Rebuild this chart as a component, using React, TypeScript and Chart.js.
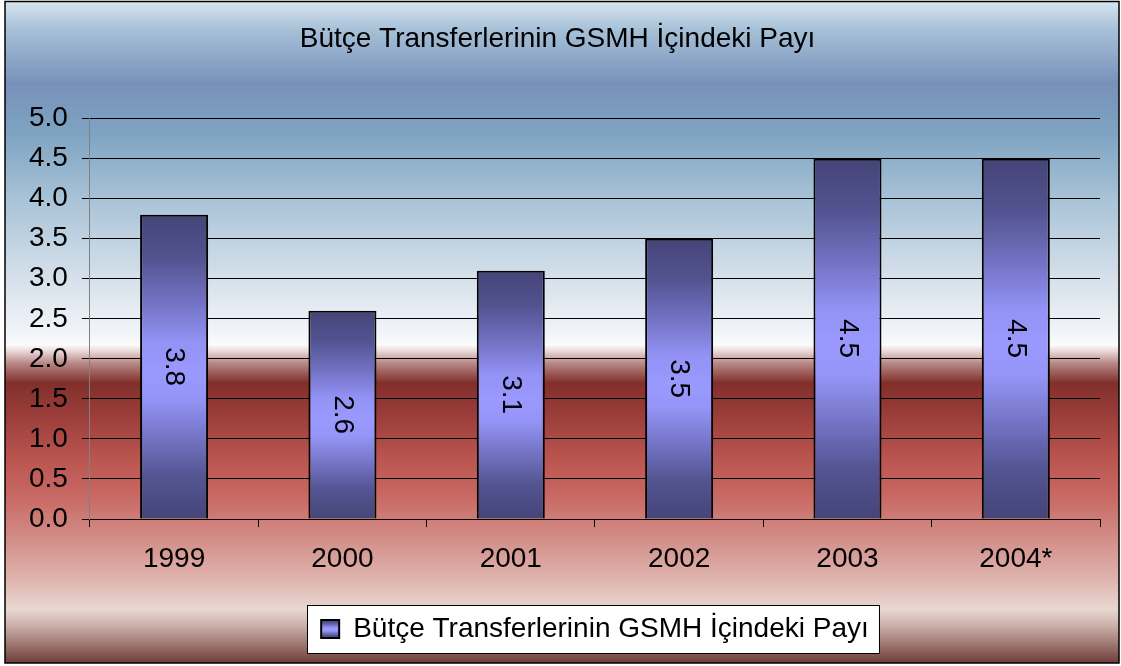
import React, { useEffect, useRef } from 'react';
import { Chart, registerables } from 'chart.js';

Chart.register(...registerables);

// ---- data ----
const categories: string[] = ['1999', '2000', '2001', '2002', '2003', '2004*'];
const values: number[] = [3.8, 2.6, 3.1, 3.5, 4.5, 4.5];
const seriesLabel = 'Bütçe Transferlerinin GSMH İçindeki Payı';
const chartTitle = 'Bütçe Transferlerinin GSMH İçindeki Payı';
const yMin = 0;
const yMax = 5;
const yStep = 0.5;

// ---- styles ----
const FONT = '"Liberation Sans", Arial, Helvetica, sans-serif';
const FONT_SIZE = 28;

const barStops: [number, string][] = [
  [0, '#454578'],
  [0.14, '#525290'],
  [0.3, '#7575c8'],
  [0.42, '#9393f5'],
  [0.52, '#9999ff'],
  [0.6, '#9595f8'],
  [0.72, '#7777ca'],
  [0.86, '#545492'],
  [1, '#454578'],
];

const bgStops: [number, string][] = [
  [0, '#d9e7f1'],
  [0.045, '#a6c0d7'],
  [0.125, '#7891ba'],
  [0.2, '#7ea3c1'],
  [0.3, '#a9c3d7'],
  [0.42, '#d6e1eb'],
  [0.505, '#f3f6f9'],
  [0.518, '#fbfbfc'],
  [0.527, '#ead9d8'],
  [0.545, '#b88a88'],
  [0.575, '#812f2b'],
  [0.63, '#9e403c'],
  [0.69, '#bb5550'],
  [0.75, '#c96b66'],
  [0.81, '#d38e89'],
  [0.87, '#dfb4ae'],
  [0.915, '#e8d7d2'],
  [0.94, '#cbaea8'],
  [1, '#673531'],
];

function makeBarGradient(ctx: CanvasRenderingContext2D, top: number, bottom: number) {
  const g = ctx.createLinearGradient(0, top, 0, bottom);
  barStops.forEach(([o, c]) => g.addColorStop(o, c));
  return g;
}

const backgroundPlugin = {
  id: 'bgFrame',
  beforeDraw(chart: any) {
    const { ctx, width, height } = chart;
    ctx.save();
    ctx.fillStyle = '#ffffff';
    ctx.fillRect(0, 0, width, height);
    const g = ctx.createLinearGradient(0, 0, 0, height);
    bgStops.forEach(([o, c]) => g.addColorStop(o, c));
    ctx.fillStyle = g;
    ctx.fillRect(5, 1, width - 7, height - 4);
    ctx.strokeStyle = '#000';
    ctx.lineWidth = 1.5;
    ctx.strokeRect(5, 1.5, width - 7, height - 4.5);

    const lg = chart.legend;
    if (lg && lg.legendHitBoxes && lg.legendHitBoxes.length) {
      const hb = lg.legendHitBoxes[0];
      const x0 = Math.round(hb.left - 14);
      const x1 = Math.round(hb.left + hb.width + 10);
      const y0 = Math.round(hb.top - 10);
      const y1 = Math.round(hb.top + hb.height + 10);
      ctx.fillStyle = '#ffffff';
      ctx.fillRect(x0, y0, x1 - x0, y1 - y0);
      ctx.strokeStyle = '#000';
      ctx.lineWidth = 1;
      ctx.strokeRect(x0 + 0.5, y0 + 0.5, x1 - x0, y1 - y0);
      const item = lg.legendItems && lg.legendItems[0];
      if (item) {
        const bh = 18;
        const top = hb.top + Math.max((FONT_SIZE - bh) / 2, 0);
        item.fillStyle = makeBarGradient(ctx, top, top + bh);
      }
    }
    ctx.restore();
  },
};

const barLabelPlugin = {
  id: 'barLabels',
  afterDatasetsDraw(chart: any) {
    const meta = chart.getDatasetMeta(0);
    const data = chart.data.datasets[0].data as number[];
    const ctx = chart.ctx;
    ctx.save();
    ctx.font = `${FONT_SIZE}px ${FONT}`;
    ctx.fillStyle = '#000';
    ctx.textAlign = 'center';
    ctx.textBaseline = 'middle';
    meta.data.forEach((el: any, i: number) => {
      const { x, y, base } = el.getProps(['x', 'y', 'base'], true);
      ctx.save();
      ctx.translate(x, (y + base) / 2);
      ctx.rotate(Math.PI / 2);
      ctx.fillText(Number(data[i]).toFixed(1), 0, 0);
      ctx.restore();
    });
    ctx.restore();
  },
};

export default function App() {
  const canvasRef = useRef<HTMLCanvasElement | null>(null);

  useEffect(() => {
    const canvas = canvasRef.current;
    if (!canvas) return;
    const font = { family: FONT, size: FONT_SIZE, weight: 'normal' as const };

    const chart = new Chart(canvas, {
      type: 'bar',
      data: {
        labels: categories,
        datasets: [
          {
            label: seriesLabel,
            data: values,
            backgroundColor: (c: any) => {
              const ch = c.chart;
              const ys = ch.scales && ch.scales.y;
              if (!ys || c.type !== 'data') return '#8080d0';
              const top = ys.getPixelForValue(c.raw);
              const bottom = ys.getPixelForValue(0);
              if (!isFinite(top) || !isFinite(bottom) || top === bottom) return '#8080d0';
              return makeBarGradient(ch.ctx, top, bottom);
            },
            borderColor: '#000',
            borderWidth: 2,
            barPercentage: 0.404,
            categoryPercentage: 1,
          },
        ],
      },
      options: {
        animation: false,
        responsive: true,
        maintainAspectRatio: false,
        devicePixelRatio: 1,
        layout: { padding: { left: 15, right: 21, top: 0, bottom: 13 } },
        plugins: {
          title: {
            display: true,
            text: chartTitle,
            color: '#000',
            font,
            padding: { top: 22, bottom: 63 },
          },
          legend: {
            display: true,
            position: 'bottom',
            fullSize: false,
            labels: {
              boxWidth: 18,
              boxHeight: 18,
              padding: 10,
              color: '#000',
              font,
              generateLabels: () => [
                {
                  text: seriesLabel,
                  fillStyle: '#8080d0',
                  strokeStyle: '#000',
                  lineWidth: 2,
                  hidden: false,
                  datasetIndex: 0,
                } as any,
              ],
            },
          },
          tooltip: { enabled: false },
        },
        scales: {
          x: {
            grid: {
              display: true,
              drawOnChartArea: false,
              drawTicks: true,
              tickLength: 8,
              color: '#000',
              lineWidth: 1,
              offset: true,
            },
            border: { display: true, color: '#000', width: 1 },
            ticks: {
              color: '#000',
              font,
              padding: 15,
              maxRotation: 0,
              autoSkip: false,
            },
            afterFit: (s: any) => {
              s.height = 86;
            },
          },
          y: {
            min: yMin,
            max: yMax,
            ticks: {
              stepSize: yStep,
              color: '#000',
              font,
              padding: 14,
              callback: (v: any) => Number(v).toFixed(1),
            },
            grid: {
              color: '#000',
              lineWidth: 1,
              tickLength: 8,
              drawTicks: true,
            },
            border: { display: true, color: '#808080', width: 1 },
          },
        },
      },
      plugins: [backgroundPlugin, barLabelPlugin],
    });

    return () => {
      chart.destroy();
    };
  }, []);

  return (
    <div style={{ position: 'fixed', left: 0, top: 0, width: 1121, height: 666 }}>
      <canvas ref={canvasRef} />
    </div>
  );
}
